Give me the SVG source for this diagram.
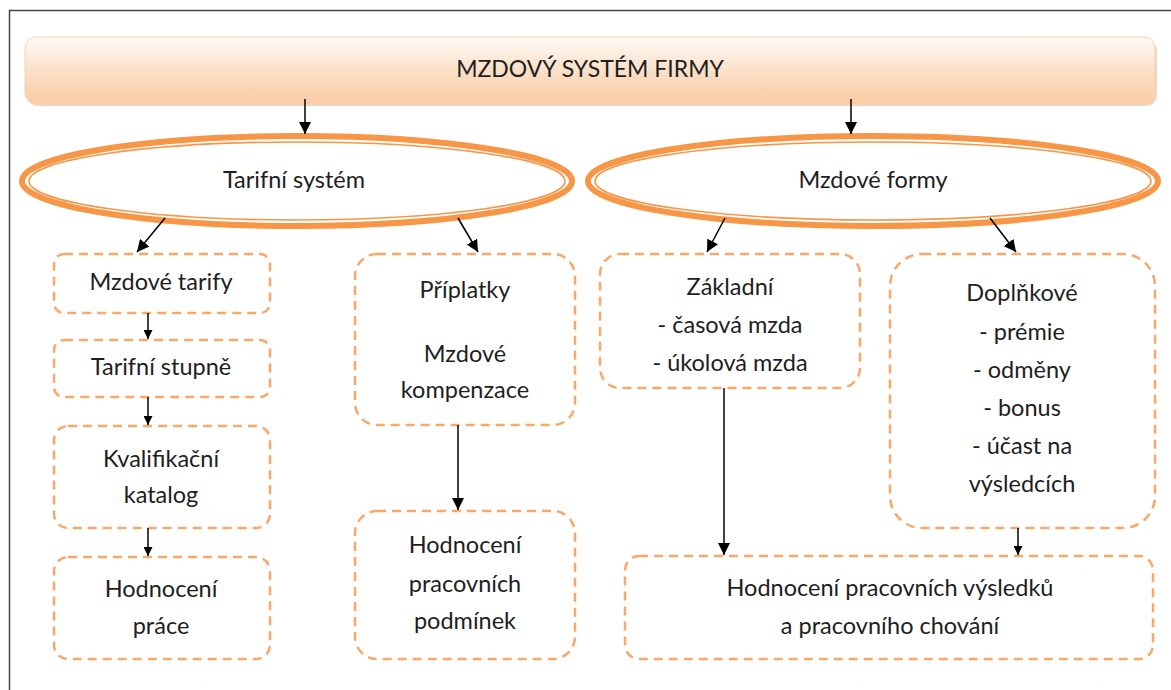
<svg xmlns="http://www.w3.org/2000/svg" width="1171" height="690" viewBox="0 0 1171 690">
<defs>
<linearGradient id="tg" x1="0" y1="0" x2="0" y2="1">
<stop offset="0" stop-color="#fefaf6"/>
<stop offset="0.5" stop-color="#fbe0c8"/>
<stop offset="1" stop-color="#f9cba3"/>
</linearGradient>
<marker id="ah" viewBox="0 0 10 10" refX="10" refY="5" markerWidth="9" markerHeight="9" markerUnits="userSpaceOnUse" orient="auto">
<path d="M0,0 L10,5 L0,10 z" fill="#000"/>
</marker>
<marker id="ahb" viewBox="0 0 10 10" refX="10" refY="5" markerWidth="12" markerHeight="12" markerUnits="userSpaceOnUse" orient="auto">
<path d="M0,0 L10,5 L0,10 z" fill="#000"/>
</marker>
</defs>
<style>
.t{font-family:Lato,"Liberation Sans",sans-serif;font-size:23.5px;fill:#1e1e1e;text-anchor:middle}
.box{fill:#fff;stroke:#f9a86a;stroke-width:2.5;stroke-dasharray:9 6}
.eo{fill:#fff;stroke:#f79646;stroke-width:6}
.ei{fill:none;stroke:#f79646;stroke-width:1.6}
.c{stroke:#000;stroke-width:1.5;fill:none}
</style>
<rect x="0" y="0" width="1171" height="690" fill="#fff"/>
<rect x="9.5" y="10.5" width="1175" height="690" fill="none" stroke="#444" stroke-width="1.5"/>

<g id="title">
<rect x="27" y="40" width="1130" height="66" rx="11" fill="#d9a27a" opacity="0.45"/>
<rect x="25" y="37" width="1130" height="67" rx="11" fill="url(#tg)" stroke="#f8d2b0" stroke-width="1"/>
<text class="t" x="590" y="77" style="font-size:23px">MZDOVÝ SYSTÉM FIRMY</text>
</g>

<g id="tarifni">
<ellipse class="eo" cx="297" cy="181" rx="275" ry="45"/>
<ellipse class="ei" cx="297" cy="181" rx="268" ry="39"/>
<text class="t" x="294" y="188">Tarifní systém</text>
</g>

<g id="formy">
<ellipse class="eo" cx="873" cy="181" rx="285" ry="45"/>
<ellipse class="ei" cx="873" cy="181" rx="278" ry="39"/>
<text class="t" x="873" y="188">Mzdové formy</text>
</g>

<g id="tarify">
<rect class="box" x="54" y="254" width="216" height="59" rx="10"/>
<text class="t" x="161" y="290">Mzdové tarify</text>
</g>
<g id="stupne">
<rect class="box" x="54" y="340" width="216" height="57" rx="10"/>
<text class="t" x="161" y="375">Tarifní stupně</text>
</g>
<g id="katalog">
<rect class="box" x="54" y="426" width="216" height="102" rx="14"/>
<text class="t" x="161" y="467">Kvalifikační</text>
<text class="t" x="161" y="503">katalog</text>
</g>
<g id="prace">
<rect class="box" x="54" y="557" width="216" height="102" rx="14"/>
<text class="t" x="161" y="597">Hodnocení</text>
<text class="t" x="161" y="634">práce</text>
</g>

<g id="priplatky">
<rect class="box" x="355" y="254" width="220" height="171" rx="22"/>
<text class="t" x="465" y="298">Příplatky</text>
<text class="t" x="465" y="362">Mzdové</text>
<text class="t" x="465" y="398">kompenzace</text>
</g>
<g id="podminky">
<rect class="box" x="355" y="511" width="220" height="148" rx="22"/>
<text class="t" x="465" y="553">Hodnocení</text>
<text class="t" x="465" y="592">pracovních</text>
<text class="t" x="465" y="629">podmínek</text>
</g>

<g id="zakladni">
<rect class="box" x="600" y="254" width="260" height="134" rx="20"/>
<text class="t" x="730" y="295">Základní</text>
<text class="t" x="730" y="333">- časová mzda</text>
<text class="t" x="730" y="371">- úkolová mzda</text>
</g>
<g id="doplnkove">
<rect class="box" x="890" y="254" width="265" height="274" rx="32"/>
<text class="t" x="1022" y="301">Doplňkové</text>
<text class="t" x="1022" y="340">- prémie</text>
<text class="t" x="1022" y="378">- odměny</text>
<text class="t" x="1022" y="416">- bonus</text>
<text class="t" x="1022" y="454">- účast na</text>
<text class="t" x="1022" y="492">výsledcích</text>
</g>
<g id="vysledky">
<rect class="box" x="625" y="556" width="528" height="103" rx="14"/>
<text class="t" x="890" y="596">Hodnocení pracovních výsledků</text>
<text class="t" x="890" y="634">a pracovního chování</text>
</g>

<g id="connectors">
<line class="c" x1="305" y1="99" x2="305" y2="134" marker-end="url(#ahb)"/>
<line class="c" x1="851" y1="99" x2="851" y2="134" marker-end="url(#ahb)"/>
<line class="c" x1="165" y1="218" x2="137" y2="252" marker-end="url(#ahb)"/>
<line class="c" x1="458" y1="218" x2="478" y2="252" marker-end="url(#ahb)"/>
<line class="c" x1="725" y1="218" x2="707" y2="252" marker-end="url(#ahb)"/>
<line class="c" x1="990" y1="218" x2="1016" y2="252" marker-end="url(#ahb)"/>
<line class="c" x1="148" y1="313" x2="148" y2="339" marker-end="url(#ah)"/>
<line class="c" x1="148" y1="397" x2="148" y2="425" marker-end="url(#ah)"/>
<line class="c" x1="148" y1="528" x2="148" y2="556" marker-end="url(#ah)"/>
<line class="c" x1="458" y1="425" x2="458" y2="510" marker-end="url(#ahb)"/>
<line class="c" x1="724" y1="388" x2="724" y2="555" marker-end="url(#ahb)"/>
<line class="c" x1="1018" y1="528" x2="1018" y2="555" marker-end="url(#ah)"/>
</g>
</svg>
